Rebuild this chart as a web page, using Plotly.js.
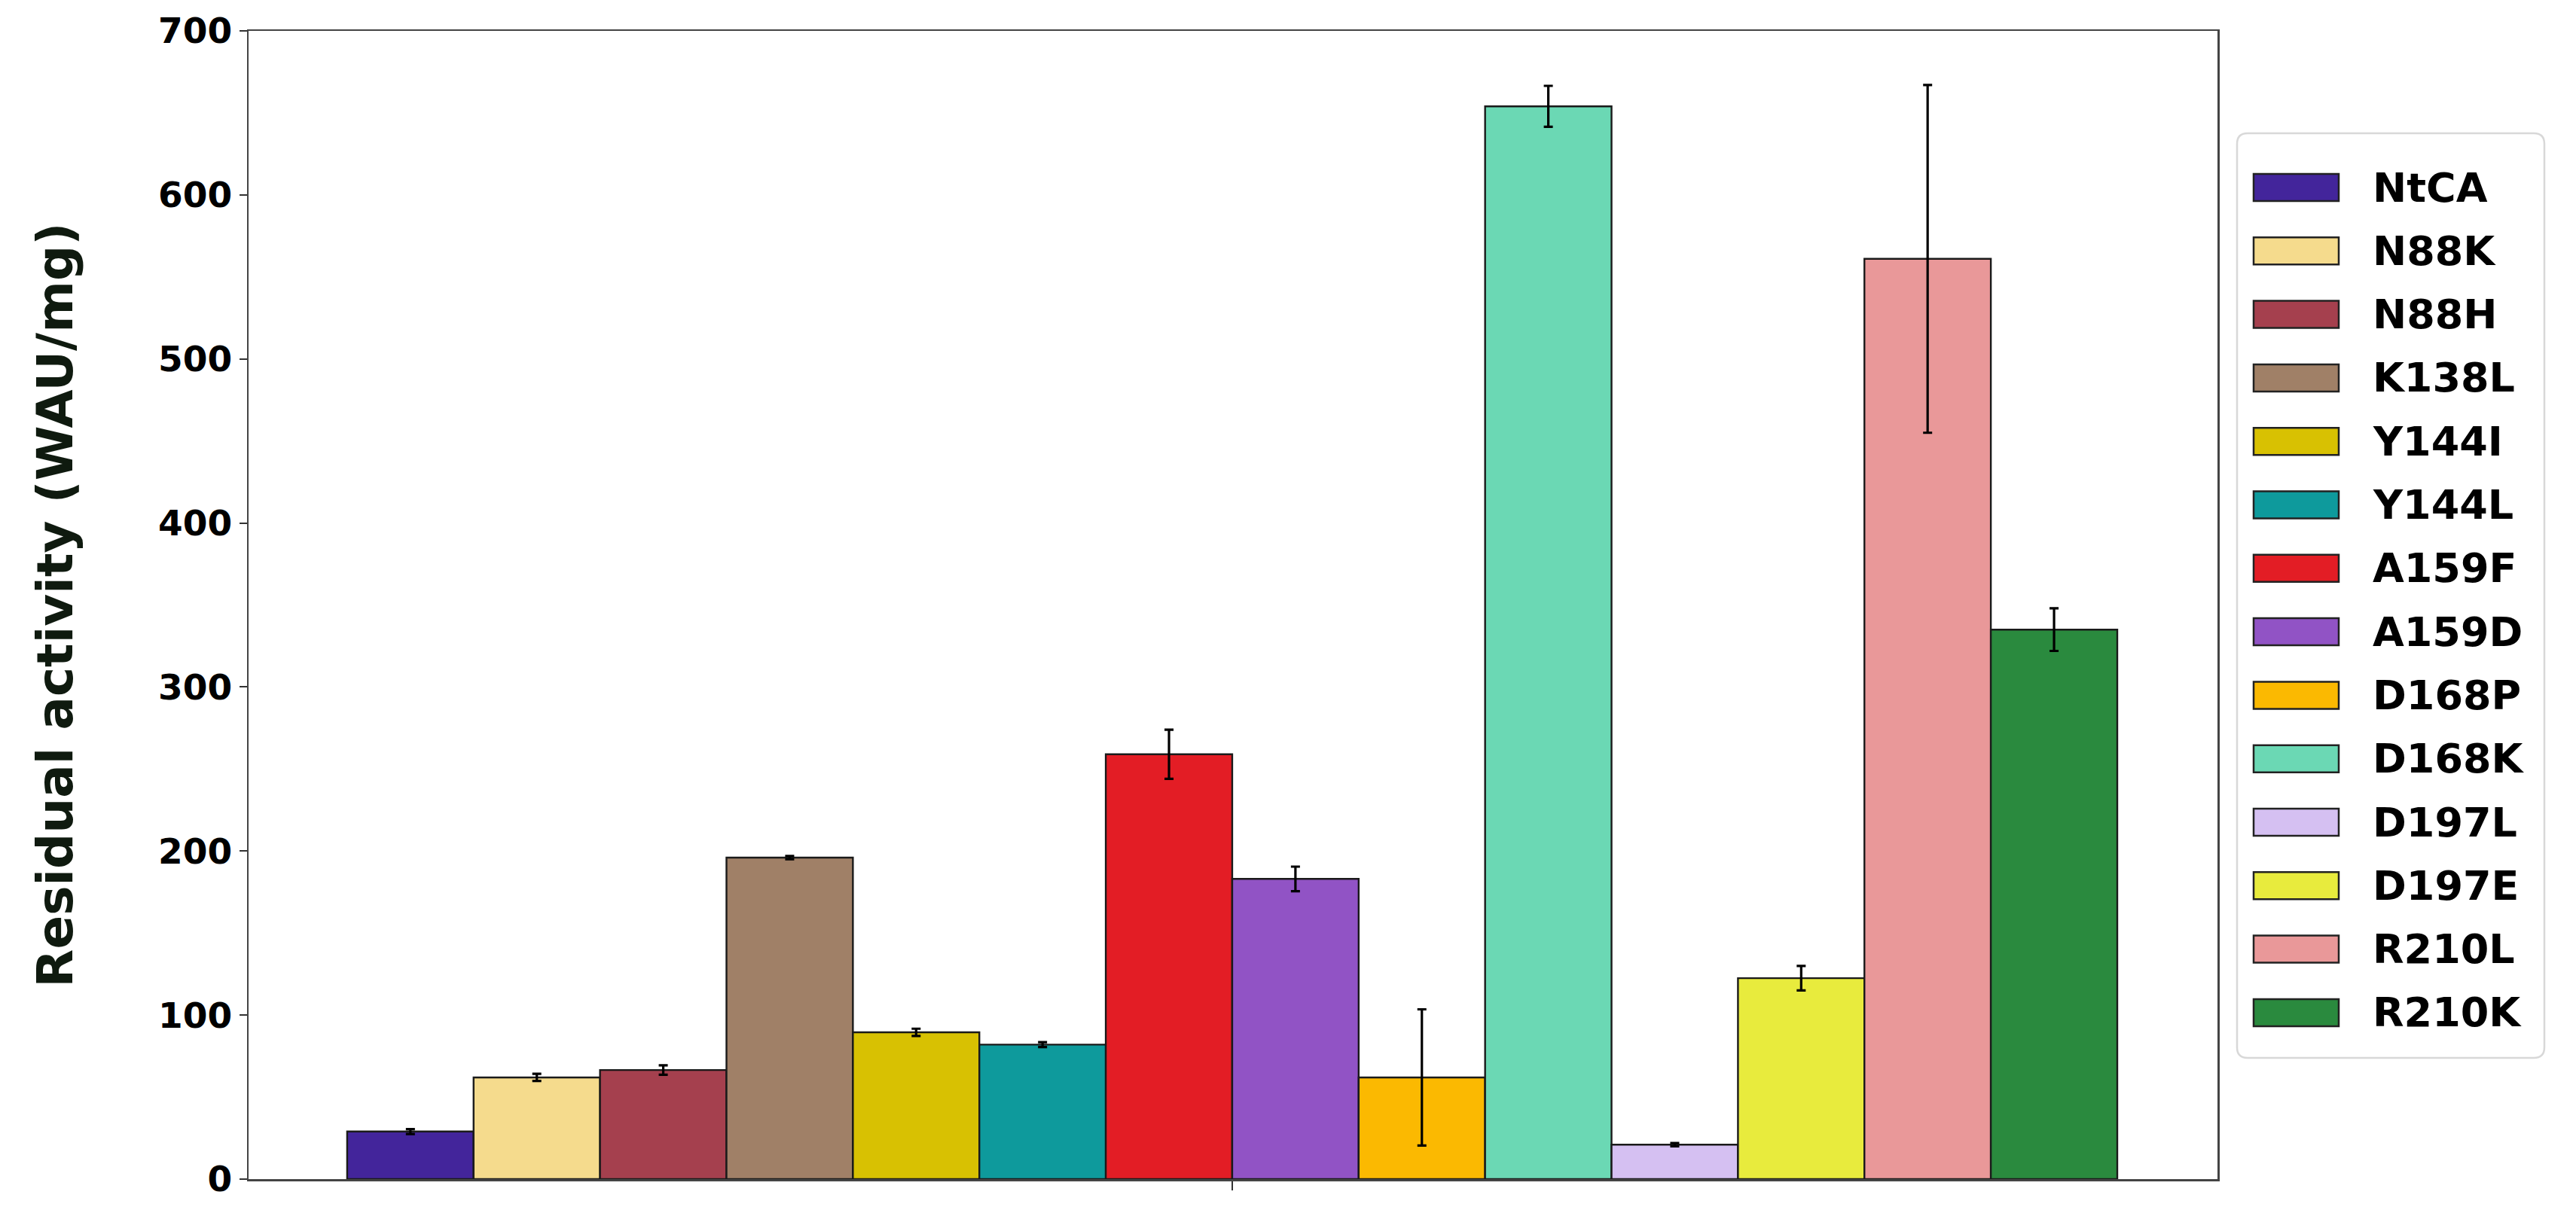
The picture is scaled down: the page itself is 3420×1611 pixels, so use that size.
<!DOCTYPE html>
<html>
<head>
<meta charset="utf-8">
<script src="https://cdn.plot.ly/plotly-3.0.1.min.js"></script>
<style>
  html, body { margin: 0; padding: 0; background: #ffffff; }
  #chart { width: 3420px; height: 1611px; }
</style>
</head>
<body>
<div id="chart"></div>
<script>
// ---- data ----
const variants = ["NtCA", "N88K", "N88H", "K138L", "Y144I", "Y144L", "A159F", "A159D",
                  "D168P", "D168K", "D197L", "D197E", "R210L", "R210K"];
const activity = [29, 62, 66.5, 196, 89.5, 82, 259, 183, 62, 654, 21, 122.5, 561, 335];
const activityErr = [1.5, 2.2, 2.9, 1, 2.2, 1.5, 15, 7.5, 41.5, 12.5, 1, 7.5, 106, 13];
const barColors = ["#43259b", "#f5db8d", "#a5404e", "#a08067", "#d8c102", "#0e9a9c",
                   "#e31d25", "#9153c5", "#fbb901", "#6bd8b4", "#d5c0f2", "#e8eb3d",
                   "#e99899", "#2a8a3e"];
const yTicks = [0, 100, 200, 300, 400, 500, 600, 700];
const yTitle = "Residual activity (WAU/mg)";

// ---- layout geometry (pixels) ----
const W = 3420, H = 1611;
const plotL = 330, plotR = 2944, plotT = 41, plotB = 1566;
const px2x = p => (p - plotL) / (plotR - plotL);
const px2y = p => (plotB - p) / (plotB - plotT);

const traces = variants.map((name, i) => ({
  type: "bar",
  name: name,
  x: [0],
  y: [activity[i]],
  marker: { color: barColors[i], line: { color: "#1a1a1a", width: 2.4 } },
  error_y: { type: "data", array: [activityErr[i]], visible: true,
             color: "#000000", thickness: 3.2, width: 6 },
  showlegend: false,
  hoverinfo: "name+y"
}));

// ---- legend drawn from the same arrays ----
const shapes = [];
const annotations = [];
const legL = 2970, legR = 3378, legT = 177, legB = 1405, rad = 14;
function roundedRectPath(l, t, r, b, k) {
  const X = px2x, Y = px2y;
  return "M" + X(l + k) + "," + Y(t) +
    " L" + X(r - k) + "," + Y(t) +
    " Q" + X(r) + "," + Y(t) + " " + X(r) + "," + Y(t + k) +
    " L" + X(r) + "," + Y(b - k) +
    " Q" + X(r) + "," + Y(b) + " " + X(r - k) + "," + Y(b) +
    " L" + X(l + k) + "," + Y(b) +
    " Q" + X(l) + "," + Y(b) + " " + X(l) + "," + Y(b - k) +
    " L" + X(l) + "," + Y(t + k) +
    " Q" + X(l) + "," + Y(t) + " " + X(l + k) + "," + Y(t) + " Z";
}
shapes.push({ type: "path", xref: "paper", yref: "paper",
  path: roundedRectPath(legL, legT, legR, legB, rad),
  line: { color: "#d8d8d8", width: 2.5 }, fillcolor: "rgba(255,255,255,0.9)" });
const firstY = 249, stepY = 84.3;
variants.forEach((name, i) => {
  const cy = firstY + i * stepY;
  shapes.push({ type: "rect", xref: "paper", yref: "paper",
    x0: px2x(2992), x1: px2x(3105), y0: px2y(cy + 18), y1: px2y(cy - 18),
    line: { color: "#222222", width: 2.5 }, fillcolor: barColors[i] });
  annotations.push({ xref: "paper", yref: "paper", x: px2x(3148), y: px2y(cy),
    xanchor: "left", yanchor: "middle", showarrow: false, text: "<b>" + name + "</b>",
    font: { family: "DejaVu Sans", size: 54, color: "#000000" } });
});

const layout = {
  width: W, height: H,
  paper_bgcolor: "#ffffff", plot_bgcolor: "#ffffff",
  margin: { l: plotL, r: W - plotR, t: plotT, b: H - plotB, pad: 0 },
  barmode: "group", bargap: 0, bargroupgap: 0,
  showlegend: false,
  xaxis: {
    type: "linear", range: [-0.5557, 0.5566],
    tickvals: [0], ticktext: [""], ticks: "outside", ticklen: 12, tickwidth: 2, tickcolor: "#333333",
    showgrid: false, zeroline: false,
    showline: true, linecolor: "#444444", linewidth: 2.5, mirror: true
  },
  yaxis: {
    range: [0, 700], tickvals: yTicks, ticktext: yTicks.map(v => "<b>" + v + "</b>"),
    ticks: "outside", ticklen: 10, tickwidth: 2, tickcolor: "#333333",
    tickfont: { family: "DejaVu Sans", size: 47, color: "#000000" },
    showgrid: false, zeroline: false,
    showline: true, linecolor: "#444444", linewidth: 2.5, mirror: true,
    title: { text: "<b>" + yTitle + "</b>", standoff: 92,
             font: { family: "DejaVu Sans", size: 66, color: "#0f1a0f" } }
  },
  shapes: shapes,
  annotations: annotations
};

Plotly.newPlot("chart", traces, layout, { displayModeBar: false, staticPlot: true });
</script>
</body>
</html>
